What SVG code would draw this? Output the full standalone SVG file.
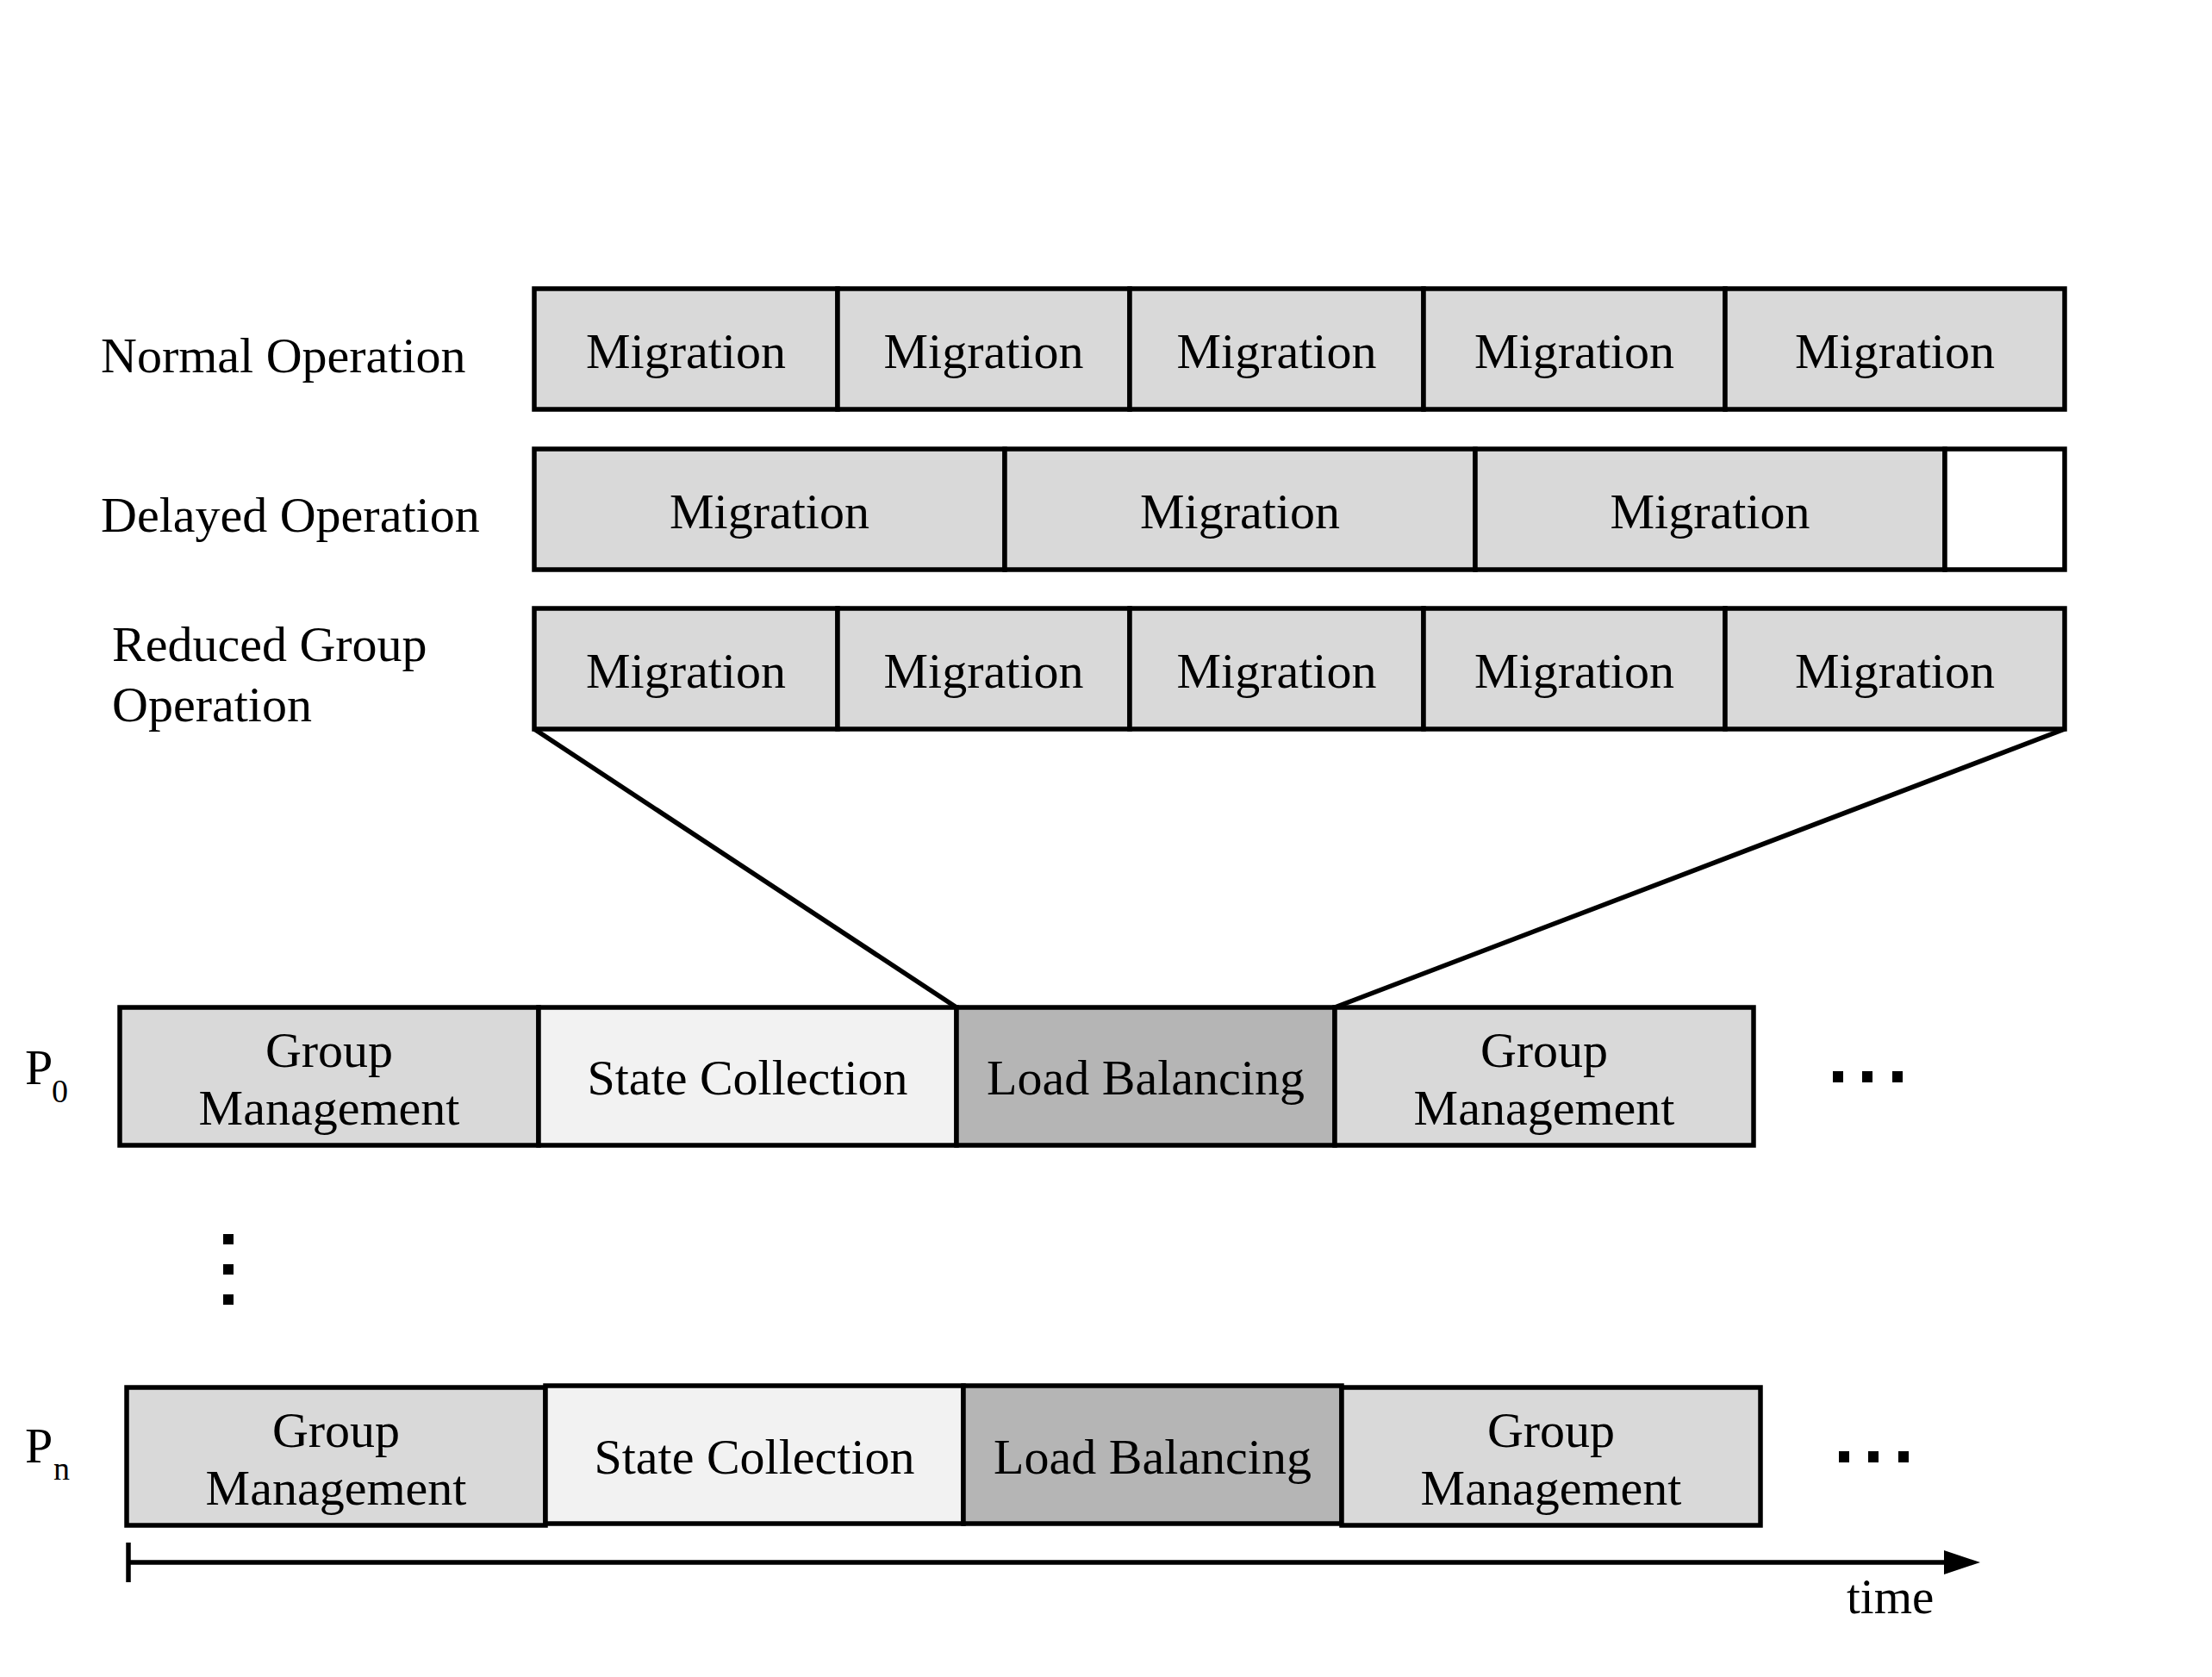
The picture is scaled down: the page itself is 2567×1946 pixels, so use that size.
<svg xmlns="http://www.w3.org/2000/svg" width="2567" height="1946" viewBox="0 0 2567 1946">
<defs>
<style>
text{font-family:"Liberation Serif","Times New Roman",serif;font-size:58px;fill:#000}
.c{text-anchor:middle}
.box{stroke:#000;stroke-width:5.5;stroke-linejoin:miter}
.mig{fill:#d9d9d9}
.gm{fill:#d9d9d9}
.sc{fill:#f2f2f2}
.lb{fill:#b5b5b5}
.emp{fill:#ffffff}
.ln{stroke:#000;stroke-width:5.5;fill:none}
.dot{fill:#000}
.sub{font-size:38px}
</style>
<marker id="arr" markerWidth="10" markerHeight="8" refX="0" refY="4" orient="auto" markerUnits="userSpaceOnUse" viewBox="0 0 10 8">
<path d="M0,0 L10,4 L0,8 Z" fill="#000"/>
</marker>
</defs>
<rect width="2567" height="1946" fill="#fff"/>

<g id="labels">
<text x="117" y="432">Normal Operation</text>
<text x="117" y="617">Delayed Operation</text>
<text x="130" y="767">Reduced Group</text>
<text x="130" y="837">Operation</text>
<text x="29" y="1258">P</text><text class="sub" x="60" y="1279">0</text>
<text x="29" y="1697">P</text><text class="sub" x="62" y="1717">n</text>
<text x="2143" y="1872" style="font-size:57px">time</text>
</g>

<g id="row-normal">
<g id="n1"><rect class="box mig" x="620" y="335" width="352" height="140"/><text class="c" x="796" y="427">Migration</text></g>
<g id="n2"><rect class="box mig" x="972" y="335" width="339" height="140"/><text class="c" x="1141.5" y="427">Migration</text></g>
<g id="n3"><rect class="box mig" x="1311" y="335" width="341" height="140"/><text class="c" x="1481.5" y="427">Migration</text></g>
<g id="n4"><rect class="box mig" x="1652" y="335" width="350" height="140"/><text class="c" x="1827" y="427">Migration</text></g>
<g id="n5"><rect class="box mig" x="2002" y="335" width="394" height="140"/><text class="c" x="2199" y="427">Migration</text></g>
</g>

<g id="row-delayed">
<g id="d1"><rect class="box mig" x="620" y="521" width="546" height="140"/><text class="c" x="893" y="613">Migration</text></g>
<g id="d2"><rect class="box mig" x="1166" y="521" width="546" height="140"/><text class="c" x="1439" y="613">Migration</text></g>
<g id="d3"><rect class="box mig" x="1712" y="521" width="545" height="140"/><text class="c" x="1984.5" y="613">Migration</text></g>
<g id="d4"><rect class="box emp" x="2257" y="521" width="139" height="140"/></g>
</g>

<g id="row-reduced">
<g id="r1"><rect class="box mig" x="620" y="706" width="352" height="140"/><text class="c" x="796" y="798">Migration</text></g>
<g id="r2"><rect class="box mig" x="972" y="706" width="339" height="140"/><text class="c" x="1141.5" y="798">Migration</text></g>
<g id="r3"><rect class="box mig" x="1311" y="706" width="341" height="140"/><text class="c" x="1481.5" y="798">Migration</text></g>
<g id="r4"><rect class="box mig" x="1652" y="706" width="350" height="140"/><text class="c" x="1827" y="798">Migration</text></g>
<g id="r5"><rect class="box mig" x="2002" y="706" width="394" height="140"/><text class="c" x="2199" y="798">Migration</text></g>
</g>

<g id="row-p0">
<g id="p0-gm1"><rect class="box gm" x="139" y="1169" width="486" height="160"/><text class="c" x="382" y="1238">Group</text><text class="c" x="382" y="1305">Management</text></g>
<g id="p0-sc"><rect class="box sc" x="625" y="1169" width="485" height="160"/><text class="c" x="867.5" y="1270">State Collection</text></g>
<g id="p0-lb"><rect class="box lb" x="1110" y="1169" width="439" height="160"/><text class="c" x="1329.5" y="1270">Load Balancing</text></g>
<g id="p0-gm2"><rect class="box gm" x="1549" y="1169" width="486" height="160"/><text class="c" x="1792" y="1238">Group</text><text class="c" x="1792" y="1305">Management</text></g>
<g id="p0-dots"><rect class="dot" x="2127" y="1243" width="12" height="13"/><rect class="dot" x="2161" y="1243" width="12" height="13"/><rect class="dot" x="2196" y="1243" width="12" height="13"/></g>
</g>

<g id="vdots"><rect class="dot" x="259" y="1432" width="12" height="12"/><rect class="dot" x="259" y="1467" width="12" height="12"/><rect class="dot" x="259" y="1502" width="12" height="12"/></g>

<g id="row-pn">
<g id="pn-gm1"><rect class="box gm" x="147" y="1610" width="486" height="160"/><text class="c" x="390" y="1679">Group</text><text class="c" x="390" y="1746">Management</text></g>
<g id="pn-sc"><rect class="box sc" x="633" y="1608" width="485" height="160"/><text class="c" x="875.5" y="1710">State Collection</text></g>
<g id="pn-lb"><rect class="box lb" x="1118" y="1608" width="439" height="160"/><text class="c" x="1337.5" y="1710">Load Balancing</text></g>
<g id="pn-gm2"><rect class="box gm" x="1557" y="1610" width="486" height="160"/><text class="c" x="1800" y="1679">Group</text><text class="c" x="1800" y="1746">Management</text></g>
<g id="pn-dots"><rect class="dot" x="2134" y="1684" width="12" height="13"/><rect class="dot" x="2168" y="1684" width="12" height="13"/><rect class="dot" x="2203" y="1684" width="12" height="13"/></g>
</g>

<g id="connectors">
<line class="ln" x1="620" y1="846" x2="1110" y2="1169"/>
<line class="ln" x1="2396" y1="846" x2="1549" y2="1169"/>
<line class="ln" x1="149" y1="1790" x2="149" y2="1836"/>
<line class="ln" x1="149" y1="1813" x2="2260" y2="1813"/>
<path d="M2256,1799 L2298,1813 L2256,1827 Z" fill="#000"/>
</g>
</svg>
